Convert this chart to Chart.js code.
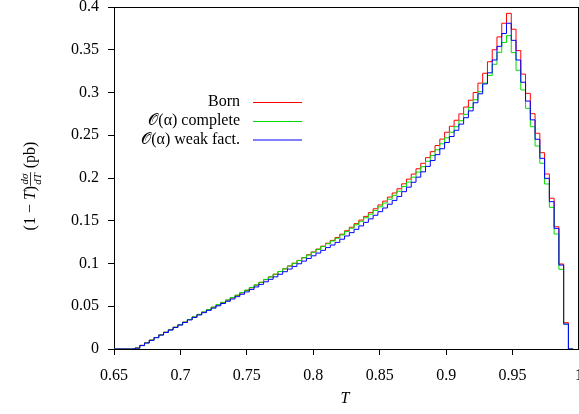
<!DOCTYPE html>
<html>
<head>
<meta charset="utf-8">
<script src="https://cdn.jsdelivr.net/npm/chart.js@4.4.1/dist/chart.umd.min.js"></script>
<style>
  html, body { margin: 0; padding: 0; overflow: hidden; background: #fff; }
  #wrap { width: 600px; height: 414px; }
</style>
</head>
<body>
<div id="wrap"><canvas id="chart" width="600" height="414"></canvas></div>
<script>
// axis ticks
const xTicks = [0.65, 0.7, 0.75, 0.8, 0.85, 0.9, 0.95, 1];
const xTickLabels = ['0.65', '0.7', '0.75', '0.8', '0.85', '0.9', '0.95', '1'];
const yTicks = [0, 0.05, 0.1, 0.15, 0.2, 0.25, 0.3, 0.35, 0.4];
const yTickLabels = ['0', '0.05', '0.1', '0.15', '0.2', '0.25', '0.3', '0.35', '0.4'];

// histogram binning (T)
const binFirstEdge = 0.6658;
const binWidth = 0.003585;

const seriesNames = ['Born', '\u{1D4AA}(\u03B1) complete', '\u{1D4AA}(\u03B1) weak fact.'];

// (1-T) dsigma/dT in pb, one value per bin
const born = [
  0.0012, 0.0043, 0.0073, 0.0104, 0.0135, 0.0166, 0.0197, 0.0226, 0.0255, 0.0284,
  0.0315, 0.0345, 0.0375, 0.0404, 0.0432, 0.0460, 0.0488, 0.0516, 0.0544, 0.0571,
  0.0599, 0.0627, 0.0657, 0.0686, 0.0716, 0.0747, 0.0779, 0.0811, 0.0843, 0.0874,
  0.0906, 0.0938, 0.0971, 0.1003, 0.1036, 0.1069, 0.1102, 0.1135, 0.1169, 0.1203,
  0.1237, 0.1270, 0.1304, 0.1343, 0.1383, 0.1424, 0.1466, 0.1508, 0.1551, 0.1595,
  0.1640, 0.1685, 0.1730, 0.1777, 0.1825, 0.1874, 0.1932, 0.1987, 0.2046, 0.2108,
  0.2172, 0.2238, 0.2308, 0.2380, 0.2455, 0.2535, 0.2605, 0.2675, 0.2750, 0.2830,
  0.2910, 0.3000, 0.3110, 0.3225, 0.3360, 0.3500, 0.3650, 0.3810, 0.3926, 0.3740,
  0.3490, 0.3215, 0.2990, 0.2752, 0.2523, 0.2296, 0.2047, 0.1763, 0.1430, 0.0994,
  0.0308, 0
];
const complete = [
  0.0011, 0.0042, 0.0072, 0.0103, 0.0134, 0.0165, 0.0196, 0.0225, 0.0255, 0.0285,
  0.0315, 0.0346, 0.0376, 0.0405, 0.0434, 0.0462, 0.0490, 0.0518, 0.0546, 0.0574,
  0.0602, 0.0630, 0.0659, 0.0689, 0.0719, 0.0750, 0.0781, 0.0813, 0.0844, 0.0875,
  0.0906, 0.0938, 0.0970, 0.1002, 0.1034, 0.1066, 0.1099, 0.1132, 0.1165, 0.1198,
  0.1231, 0.1263, 0.1296, 0.1334, 0.1373, 0.1413, 0.1453, 0.1494, 0.1535, 0.1577,
  0.1620, 0.1663, 0.1707, 0.1752, 0.1798, 0.1845, 0.1900, 0.1953, 0.2010, 0.2070,
  0.2132, 0.2196, 0.2262, 0.2330, 0.2400, 0.2470, 0.2535, 0.2600, 0.2670, 0.2745,
  0.2825, 0.2915, 0.3010, 0.3110, 0.3200, 0.3330, 0.3470, 0.3585, 0.3665, 0.3466,
  0.3260, 0.3030, 0.2815, 0.2600, 0.2374, 0.2172, 0.1930, 0.1657, 0.1345, 0.0932,
  0.0289, 0
];
const weakFact = [
  0.0010, 0.0040, 0.0070, 0.0101, 0.0132, 0.0163, 0.0193, 0.0222, 0.0251, 0.0280,
  0.0310, 0.0340, 0.0369, 0.0398, 0.0425, 0.0452, 0.0478, 0.0505, 0.0532, 0.0558,
  0.0585, 0.0612, 0.0640, 0.0668, 0.0697, 0.0726, 0.0756, 0.0786, 0.0815, 0.0844,
  0.0874, 0.0904, 0.0935, 0.0966, 0.0997, 0.1028, 0.1059, 0.1090, 0.1122, 0.1154,
  0.1186, 0.1216, 0.1247, 0.1284, 0.1322, 0.1361, 0.1400, 0.1440, 0.1481, 0.1522,
  0.1564, 0.1606, 0.1649, 0.1693, 0.1738, 0.1784, 0.1840, 0.1893, 0.1950, 0.2010,
  0.2072, 0.2136, 0.2204, 0.2273, 0.2342, 0.2415, 0.2485, 0.2558, 0.2630, 0.2705,
  0.2785, 0.2880, 0.2985, 0.3100, 0.3230, 0.3380, 0.3540, 0.3690, 0.3810, 0.3610,
  0.3380, 0.3120, 0.2900, 0.2680, 0.2453, 0.2230, 0.1996, 0.1723, 0.1411, 0.0982,
  0.0292, 0
];

const SERIF = "'Liberation Serif', 'DejaVu Serif', serif";

// one point per bin left edge, stepped lines hold the value to the next edge
function toSteps(vals){
  const pts = [{x: 0.65, y: 0}];
  vals.forEach((v, i) => pts.push({x: binFirstEdge + i * binWidth, y: v}));
  pts.push({x: binFirstEdge + vals.length * binWidth, y: vals[vals.length - 1]});
  return pts;
}

const colors = ['#ff0000', '#00dd00', '#0000ff'];

const extras = {
  id: 'extras',
  afterDraw(chart){
    const ctx = chart.ctx;
    const a = chart.chartArea;
    ctx.save();
    // frame
    ctx.strokeStyle = '#000';
    ctx.lineWidth = 1;
    ctx.beginPath();
    ctx.moveTo(a.left, a.top + 0.5);
    ctx.lineTo(a.right, a.top + 0.5);
    ctx.moveTo(a.right - 0.5, a.top);
    ctx.lineTo(a.right - 0.5, a.bottom);
    ctx.stroke();

    // key
    ctx.font = '16px ' + SERIF;
    ctx.fillStyle = '#000';
    ctx.textAlign = 'right';
    ctx.textBaseline = 'middle';
    const rows = [102, 121, 139.5];
    seriesNames.forEach((name, i) => {
      ctx.fillText(name, 240, rows[i]);
      ctx.strokeStyle = colors[i];
      ctx.beginPath();
      ctx.moveTo(253, rows[i] + 0.5);
      ctx.lineTo(302, rows[i] + 0.5);
      ctx.stroke();
    });

    // x title
    ctx.textAlign = 'center';
    ctx.font = 'italic 16px ' + SERIF;
    ctx.fillText('T', 345, 399);

    // y title, rotated
    ctx.translate(30, 186);
    ctx.rotate(-Math.PI / 2);
    ctx.textAlign = 'left';
    ctx.textBaseline = 'alphabetic';
    const parts = [
      {t: '(1 \u2212 ', f: '16px ' + SERIF},
      {t: 'T', f: 'italic 16px ' + SERIF},
      {t: ')', f: '16px ' + SERIF},
      {frac: true},
      {t: ' (pb)', f: '16px ' + SERIF}
    ];
    let total = 0;
    const small = 'italic 11px ' + SERIF;
    parts.forEach(p => {
      if(p.frac){
        ctx.font = small;
        p.w = Math.max(ctx.measureText('d\u03C3').width, ctx.measureText('dT').width) + 2;
      } else {
        ctx.font = p.f;
        p.w = ctx.measureText(p.t).width;
      }
      total += p.w;
    });
    let x = -total / 2;
    const base = 5;
    parts.forEach(p => {
      if(p.frac){
        ctx.font = small;
        ctx.textAlign = 'center';
        ctx.fillText('d\u03C3', x + p.w / 2, base - 7);
        ctx.fillText('dT', x + p.w / 2, base + 6);
        ctx.beginPath();
        ctx.strokeStyle = '#000';
        ctx.lineWidth = 0.8;
        ctx.moveTo(x, base - 4.5);
        ctx.lineTo(x + p.w, base - 4.5);
        ctx.stroke();
        ctx.textAlign = 'left';
      } else {
        ctx.font = p.f;
        ctx.fillText(p.t, x, base);
      }
      x += p.w;
    });
    ctx.restore();
  }
};

new Chart(document.getElementById('chart'), {
  type: 'line',
  data: {
    datasets: [
      {label: seriesNames[2], data: toSteps(weakFact), borderColor: colors[2]},
      {label: seriesNames[1], data: toSteps(complete), borderColor: colors[1]},
      {label: seriesNames[0], data: toSteps(born), borderColor: colors[0]}
    ].map(d => Object.assign(d, {stepped: true, borderWidth: 1, pointRadius: 0, fill: false, tension: 0}))
  },
  options: {
    responsive: false,
    animation: false,
    layout: {padding: {left: 0, right: 21, top: 7, bottom: 0}},
    plugins: {legend: {display: false}, tooltip: {enabled: false}},
    scales: {
      x: {
        type: 'linear', min: 0.65, max: 1,
        afterBuildTicks: s => { s.ticks = xTicks.map(v => ({value: v})); },
        afterFit: s => { s.height = 65; s.paddingLeft = 0; s.paddingRight = 0; },
        ticks: {
          autoSkip: false, maxRotation: 0, padding: 11, color: '#000',
          font: {family: SERIF, size: 16},
          callback: (v, i) => xTickLabels[i]
        },
        grid: {drawOnChartArea: false, tickLength: 6, color: '#000'},
        border: {color: '#000', width: 1}
      },
      y: {
        type: 'linear', min: 0, max: 0.4,
        afterBuildTicks: s => { s.ticks = yTicks.map(v => ({value: v})); },
        afterFit: s => { s.width = 114; s.paddingTop = 0; s.paddingBottom = 0; },
        ticks: {
          padding: 9, color: '#000',
          font: {family: SERIF, size: 16},
          callback: (v, i) => yTickLabels[i]
        },
        grid: {drawOnChartArea: false, tickLength: 6, color: '#000'},
        border: {color: '#000', width: 1}
      }
    }
  },
  plugins: [extras]
});
</script>
</body>
</html>
